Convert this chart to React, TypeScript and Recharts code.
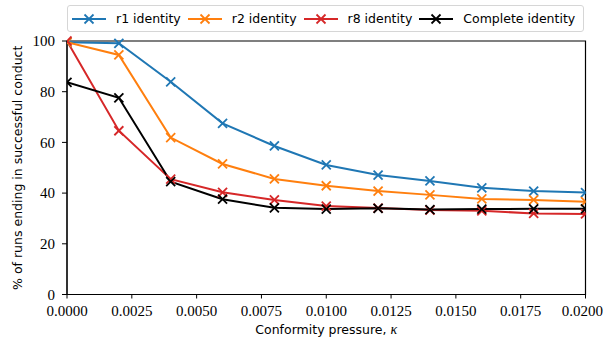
import { LineChart, Line, XAxis, YAxis, ReferenceArea } from 'recharts';

const kappa = [0, 0.002, 0.004, 0.006, 0.008, 0.01, 0.012, 0.014, 0.016, 0.018, 0.02];
const r1Identity = [99.5, 99.1, 83.9, 67.5, 58.6, 51.1, 47.1, 44.8, 42.1, 40.8, 40.2];
const r2Identity = [99.5, 94.5, 61.9, 51.5, 45.6, 42.9, 40.8, 39.3, 37.7, 37.3, 36.6];
const r8Identity = [100, 64.6, 45.5, 40.3, 37.3, 34.9, 34.1, 33.3, 33.0, 32.0, 31.8];
const completeIdentity = [83.7, 77.6, 44.5, 37.6, 34.2, 33.7, 34.0, 33.5, 33.7, 33.8, 33.8];

const xTicks = [0, 0.0025, 0.005, 0.0075, 0.01, 0.0125, 0.015, 0.0175, 0.02];
const yTicks = [0, 20, 40, 60, 80, 100];

const seriesNames = ['r1 identity', 'r2 identity', 'r8 identity', 'Complete identity'];
const seriesColors = ['#1f77b4', '#ff7f0e', '#d62728', '#000000'];
const seriesValues = [r1Identity, r2Identity, r8Identity, completeIdentity];

const data = kappa.map((k, i) => {
  const row: Record<string, number> = { kappa: k };
  seriesNames.forEach((name, s) => {
    row[name] = seriesValues[s][i];
  });
  return row;
});

const SANS = '"DejaVu Sans", sans-serif';
const SERIF = '"Liberation Serif", serif';

/* eslint-disable @typescript-eslint/no-explicit-any */
function crossDot(color: string) {
  return function CrossDot(props: any) {
    const { cx, cy, index } = props;
    if (cx == null || cy == null) return <g key={index} />;
    const h = 4.5;
    return (
      <g key={index} stroke={color} strokeWidth={1.8}>
        <line x1={cx - h} y1={cy - h} x2={cx + h} y2={cy + h} />
        <line x1={cx - h} y1={cy + h} x2={cx + h} y2={cy - h} />
      </g>
    );
  };
}

function XLabel(props: any) {
  const { viewBox } = props;
  const x = viewBox.x + viewBox.width / 2;
  return (
    <text x={x} y={334} textAnchor="middle" fontFamily={SANS} fontSize={12.5} fill="#000">
      Conformity pressure, <tspan fontStyle="italic" fontFamily={SERIF} fontSize={14}>κ</tspan>
    </text>
  );
}

function YLabel(props: any) {
  const { viewBox } = props;
  const cy = viewBox.y + viewBox.height / 2;
  const x = 22;
  return (
    <text
      x={x}
      y={cy}
      transform={`rotate(-90, ${x}, ${cy})`}
      textAnchor="middle"
      fontFamily={SANS}
      fontSize={12.5}
      fill="#000"
    >
      % of runs ending in successful conduct
    </text>
  );
}

function LegendBox() {
  return (
    <div
      style={{
        position: 'absolute',
        left: 67,
        top: 5,
        width: 517,
        height: 27,
        border: '1px solid #d6d6d6',
        borderRadius: 3,
        background: 'rgba(255,255,255,0.8)',
        display: 'flex',
        alignItems: 'center',
        paddingLeft: 4,
        boxSizing: 'border-box',
        fontFamily: SANS,
        fontSize: 12.5,
        color: '#000',
        whiteSpace: 'nowrap',
      }}
    >
      {seriesNames.map((name, i) => (
        <div key={name} style={{ display: 'flex', alignItems: 'center', marginRight: 7 }}>
          <svg width={34} height={12} style={{ marginRight: 10 }}>
            <g stroke={seriesColors[i]} strokeWidth={1.8}>
              <line x1={0} y1={6} x2={34} y2={6} />
              <line x1={12.5} y1={1.5} x2={21.5} y2={10.5} />
              <line x1={12.5} y1={10.5} x2={21.5} y2={1.5} />
            </g>
          </svg>
          <span>{name}</span>
        </div>
      ))}
    </div>
  );
}

export default function App() {
  return (
    <div style={{ position: 'absolute', left: 0, top: 0, width: 603, height: 343, background: '#fff' }}>
      <LineChart
        width={603}
        height={343}
        data={data}
        margin={{ top: 41, right: 17.5, bottom: 4.5, left: 7 }}
      >
        <XAxis
          dataKey="kappa"
          type="number"
          domain={[0, 0.02]}
          ticks={xTicks}
          tickFormatter={(v: number) => v.toFixed(4)}
          height={44}
          tickSize={4}
          tickMargin={7}
          stroke="#000"
          tick={{ fill: '#000', fontFamily: SERIF, fontSize: 15 }}
          tickLine={{ stroke: '#000' }}
          allowDataOverflow
          label={<XLabel />}
        />
        <YAxis
          type="number"
          domain={[0, 100]}
          ticks={yTicks}
          width={60}
          tickSize={5}
          tickMargin={7}
          stroke="#000"
          tick={{ fill: '#000', fontFamily: SERIF, fontSize: 15 }}
          tickLine={{ stroke: '#000' }}
          label={<YLabel />}
        />
        <ReferenceArea x1={0} x2={0.02} y1={0} y2={100} fill="none" stroke="#000" strokeWidth={1.2} ifOverflow="visible" />
        {seriesNames.map((name, i) => (
          <Line
            key={name}
            dataKey={name}
            stroke={seriesColors[i]}
            strokeWidth={2}
            dot={crossDot(seriesColors[i])}
            activeDot={false}
            isAnimationActive={false}
          />
        ))}
      </LineChart>
      <LegendBox />
    </div>
  );
}
